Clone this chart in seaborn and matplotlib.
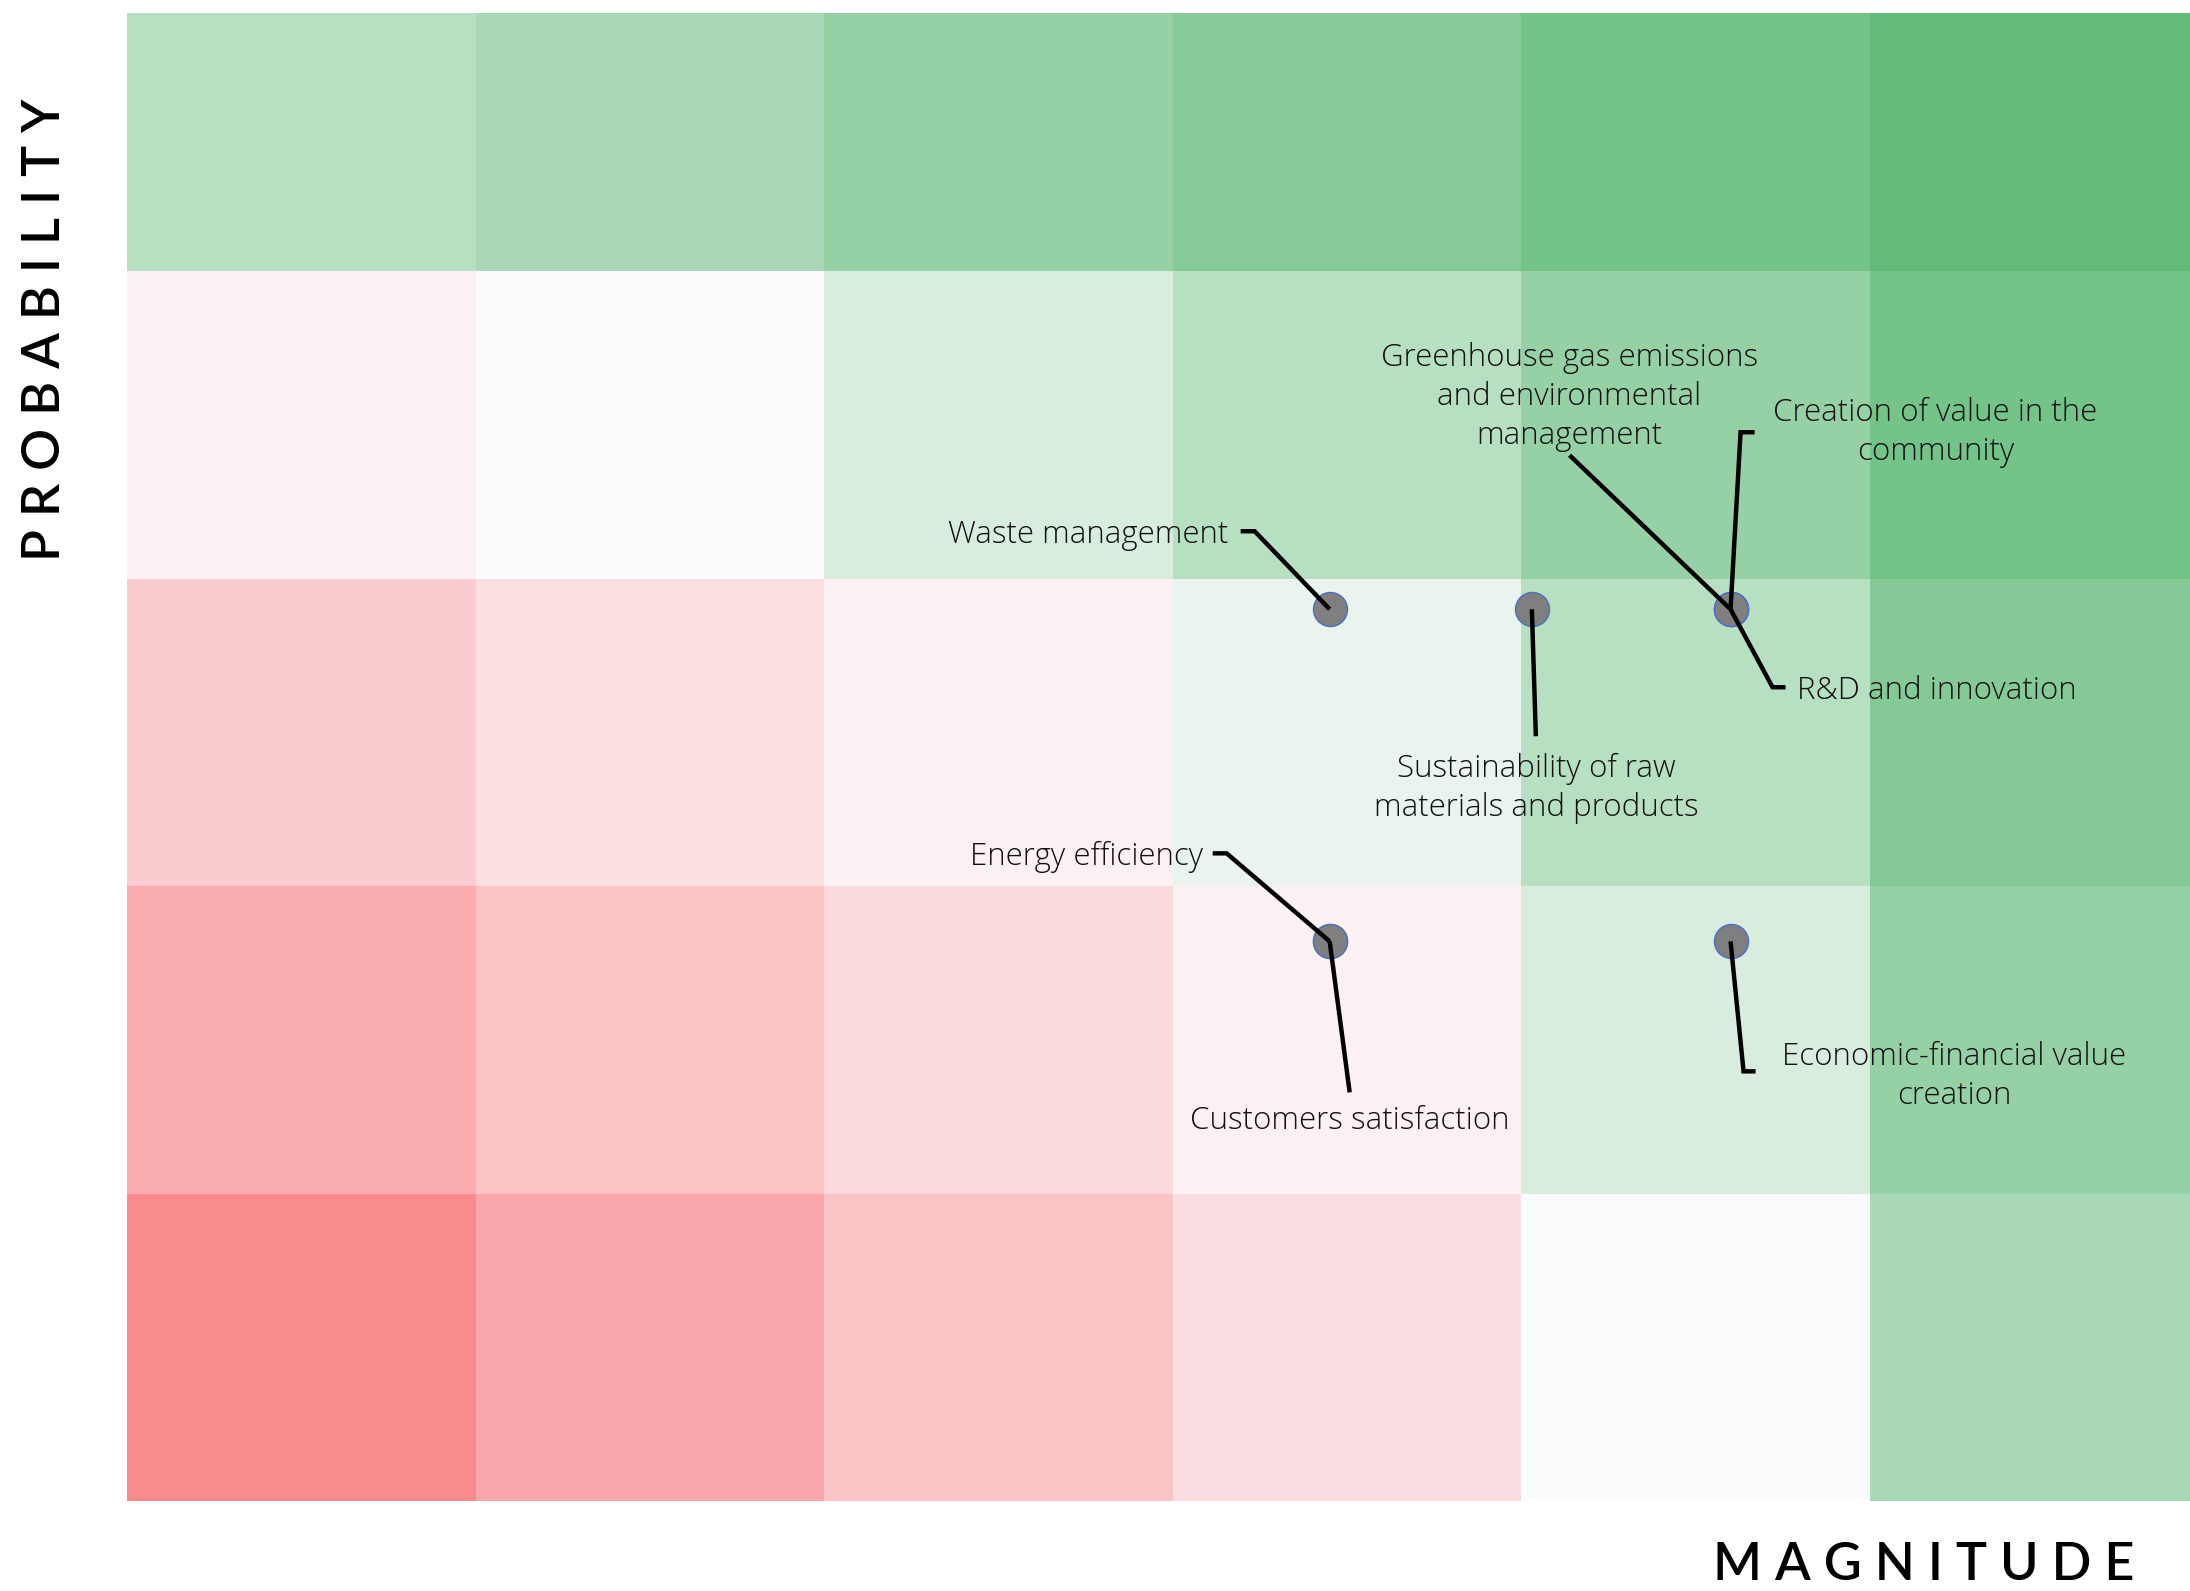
import numpy as np
import pandas as pd
import seaborn as sns
import matplotlib
matplotlib.use("Agg")
import matplotlib.pyplot as plt
from matplotlib.colors import LinearSegmentedColormap

# ---- data -------------------------------------------------------------
# risk score per cell (rows: probability high -> low, cols: magnitude low -> high)
score_rows = [
    [44, 54, 66, 76, 88, 100],
    [-10, 0, 22, 44, 66, 88],
    [-41, -24, -10, 11, 44, 77],
    [-71, -50, -29, -10, 22, 66],
    [-100, -74, -50, -26, 0, 54],
]
magnitude_levels = [1, 2, 3, 4, 5, 6]
probability_levels = [5, 4, 3, 2, 1]

topics = [
    "Waste management",
    "Sustainability of raw\nmaterials and products",
    "Greenhouse gas emissions\nand environmental\nmanagement",
    "Creation of value in the\ncommunity",
    "R&D and innovation",
    "Energy efficiency",
    "Customers satisfaction",
    "Economic-financial value\ncreation",
]
# position of each topic on the grid (cell units)
topic_magnitude = [3.45, 4.03, 4.60, 4.60, 4.60, 3.45, 3.45, 4.60]
topic_probability = [2.90, 2.90, 2.90, 2.90, 2.90, 1.82, 1.82, 1.82]

# ---- label layout (pixel offsets from the point, y downwards) ----------
leader_paths = [
    [(0, 0), (-75, -78), (-89, -78)],
    [(0, 0), (4, 127)],
    [(0, 0), (-161, -154)],
    [(0, 0), (10, -177), (24, -177)],
    [(0, 0), (42, 78), (55, 78)],
    [(0, 0), (-103, -88), (-117, -88)],
    [(0, 0), (20, 151)],
    [(0, 0), (13, 130), (25, 130)],
]
text_offsets = [(-101, -74), (4, 179), (-161, -212), (205, -177),
                (66, 82), (-127, -84), (20, 180), (224, 135)]
text_align = ["right", "center", "center", "center",
              "left", "right", "center", "center"]

# ---- figure -------------------------------------------------------------
sns.set_theme(style="white")
plt.rcParams["font.family"] = ["Lato", "DejaVu Sans"]

W, H = 2190, 1591
fig = plt.figure(figsize=(W / 100, H / 100), dpi=100)
ax = fig.add_axes([127 / W, 1 - 1501 / H, (W - 127) / W, (1501 - 13) / H])

cmap = LinearSegmentedColormap.from_list(
    "risk", [(0.0, "#f98a8e"), (0.5, "#fbfbfd"), (1.0, "#62bb78")])
grid = pd.DataFrame(score_rows, index=probability_levels, columns=magnitude_levels)
sns.heatmap(grid, cmap=cmap, vmin=-100, vmax=100, cbar=False,
            xticklabels=False, yticklabels=False, ax=ax, linewidths=0)

XMAX = (W - 127) / 348.6
YTOP = 1 - (271 - 13) / 307.5
ax.set_xlim(0, XMAX)
ax.set_ylim(5, YTOP)
ax.set_xlabel("")
ax.set_ylabel("")
for s in ax.spines.values():
    s.set_visible(False)

n_rows = len(probability_levels)
px = np.array(topic_magnitude)
py = n_rows - np.array(topic_probability)

to_disp = ax.transData
to_data = ax.transData.inverted()

label_font = dict(family=["Open Sans", "DejaVu Sans"], size=22.5, weight=300)

for i, name in enumerate(topics):
    anchor = to_disp.transform((px[i], py[i]))
    pts = np.array([to_data.transform((anchor[0] + dx, anchor[1] - dy))
                    for dx, dy in leader_paths[i]])
    ax.plot(pts[:, 0], pts[:, 1], color="black", lw=3.2,
            solid_joinstyle="miter", solid_capstyle="butt", zorder=4)
    tdx, tdy = text_offsets[i]
    tx, ty = to_data.transform((anchor[0] + tdx, anchor[1] - tdy))
    ax.text(tx, ty, name, ha=text_align[i], va="center", multialignment="center",
            fontdict=label_font, color="#111111", linespacing=1.3, zorder=5)

sns.scatterplot(x=px, y=py, s=600, color="#7f7f7f", edgecolor="#4a6fc4",
                linewidth=1.0, ax=ax, zorder=3, legend=False)
ax.set_xlim(0, XMAX)
ax.set_ylim(5, YTOP)

fig.text(46 / W, 1 - 330 / H, "P R O B A B I L I T Y", rotation=90,
         ha="center", va="center", fontsize=37.5, fontweight="semibold", color="black")
fig.text(2134 / W, 1 - 1566 / H, "M A G N I T U D E",
         ha="right", va="center", fontsize=37.5, fontweight="semibold", color="black")

fig.savefig("out.png", dpi=100)
